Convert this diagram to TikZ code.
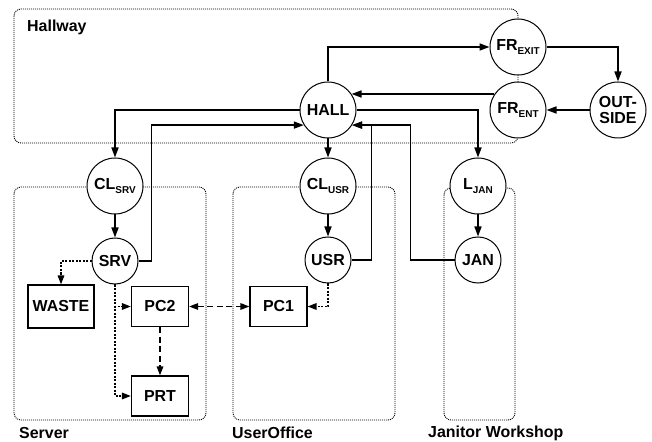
\documentclass[tikz,border=0pt]{standalone}
\usepackage{fontspec}
\setmainfont{Liberation Sans}
\usetikzlibrary{arrows.meta,calc}
\newcommand{\sbs}[1]{\raisebox{-0.55ex}{\fontsize{10}{10}\selectfont\bfseries #1}}
\begin{document}
\begin{tikzpicture}[x=1bp,y=-1bp,font=\fontsize{16}{17}\selectfont\bfseries,
  state/.style={circle,draw,fill=white,line width=1bp,minimum size=56bp,inner sep=0pt,align=center},
  smallstate/.style={state,minimum size=46bp},
  pbox/.style={rectangle,draw,fill=white,line width=1.2bp,minimum width=57bp,minimum height=40bp,inner sep=0pt},
  group/.style={draw,line width=0.9bp,dash pattern=on 1bp off 1bp,rounded corners=7bp},
  conn/.style={line width=1.6bp,-{Triangle[length=10bp,width=7bp]}},
  dotconn/.style={line width=1.6bp,dash pattern=on 2bp off 1.5bp,-{Triangle[length=9bp,width=6.5bp]}},
  dashconn/.style={line width=1.5bp,dash pattern=on 6bp off 3.5bp,-{Triangle[length=9bp,width=6.5bp]}},
  lbl/.style={anchor=west,inner sep=0pt}]
\useasboundingbox (0,0) rectangle (652,442);
% groups
\draw[group] (14,9) rectangle (518,143);
\draw[group] (14,187) rectangle (206,420);
\draw[group] (233,187) rectangle (395,420);
\draw[group] (444,188) rectangle (515,420);
\node[lbl] (lHall) at (27,27) {Hallway};
\node[lbl] (lSrv) at (19,433) {Server};
\node[lbl] (lUsr) at (232,433) {UserOffice};
\node[lbl] (lJan) at (428,433) {Janitor Workshop};
% nodes
\node[state] (HALL) at (328,110) {HALL};
\node[state] (FREXIT) at (518,47) {FR\sbs{EXIT}};
\node[state] (FRENT) at (518,110) {FR\sbs{ENT}};
\node[state] (OUT) at (618,110) {OUT-\\SIDE};
\node[state] (CLSRV) at (115,186) {CL\sbs{SRV}};
\node[smallstate] (SRV) at (115,261) {SRV};
\node[state] (CLUSR) at (328,186) {CL\sbs{USR}};
\node[smallstate] (USR) at (328,260) {USR};
\node[state] (LJAN) at (478,186) {L\sbs{JAN}};
\node[smallstate] (JAN) at (478,260) {JAN};
\node[pbox,minimum width=66bp,minimum height=43bp] (WASTE) at (61,306.5) {WASTE};
\node[pbox] (PC2) at (160,306.5) {PC2};
\node[pbox] (PC1) at (278.5,306.5) {PC1};
\node[pbox] (PRT) at (160,396) {PRT};
\coordinate (HALLin) at ($(HALL.center)+(23.5,-16)$);
% connectors
\draw[conn] (HALL.north) |- (FREXIT.west);
\draw[conn] (FREXIT.east) -| (OUT.north);
\draw[conn] (OUT.west) -- (FRENT.east);
\draw[conn] (FRENT.west |- HALLin) ++(4.5,0) -- (HALLin);
\draw[conn] (HALL.west) -| (CLSRV.north);
\draw[conn] (SRV.east) -- ++(13,0) |- (HALL.212);
\draw[conn] (HALL.south) -- (CLUSR.north);
\draw[conn] (HALL.east) -| (LJAN.north);
\draw[conn] (USR.east) -- ++(20,0) |- (HALL.-32);
\draw[conn] (JAN.west) -- ++(-44,0) |- (HALL.-32);
\draw[conn] (CLSRV.south) -- (SRV.north);
\draw[conn] (CLUSR.south) -- (USR.north);
\draw[conn] (LJAN.south) -- (JAN.north);
\draw[dotconn] (SRV.west) -| (WASTE.north);
\draw[dotconn] (SRV.south) |- (PC2.west);
\draw[dotconn] (SRV.south) |- (PRT.west);
\draw[dotconn] (USR.south) |- (PC1.east);
\draw[dashconn,{Triangle[length=9bp,width=6.5bp]}-{Triangle[length=9bp,width=6.5bp]}] (PC2.east) -- (PC1.west);
\draw[dashconn] (PC2.south) -- (PRT.north);
\end{tikzpicture}
\end{document}
